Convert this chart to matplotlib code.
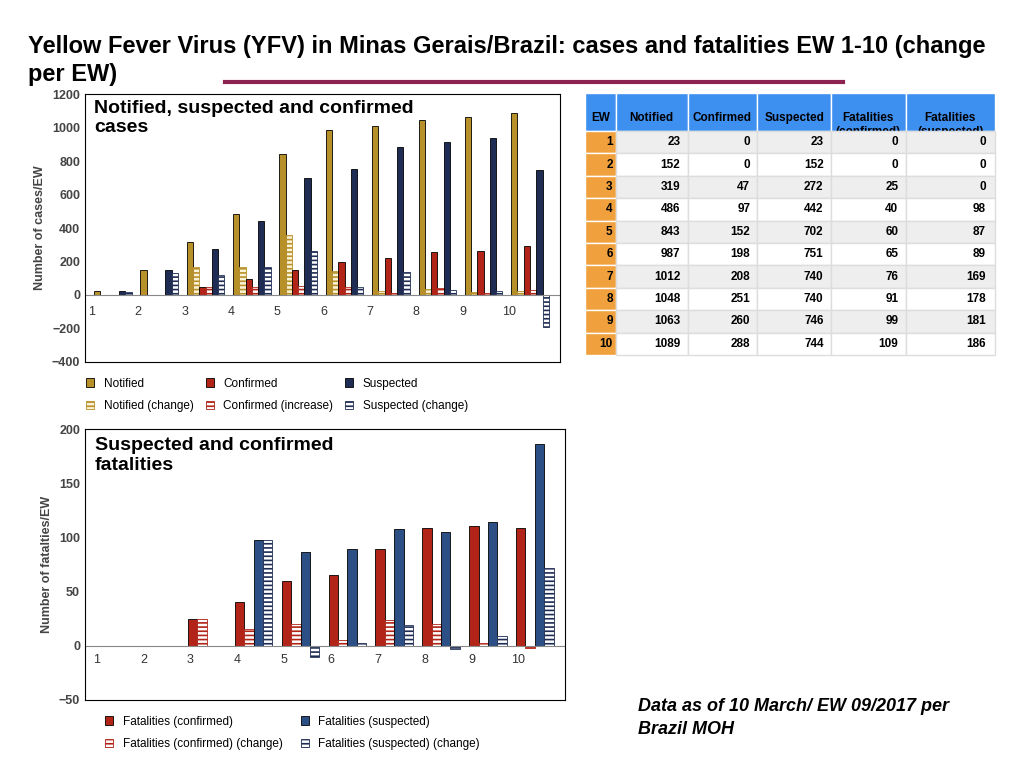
import numpy as np
import matplotlib.pyplot as plt

ew = np.arange(1, 11)

# top chart values
notified = [23, 152, 319, 486, 843, 987, 1012, 1048, 1063, 1089]
notified_change = [0, 0, 170, 170, 360, 145, 25, 35, 15, 25]
confirmed = [0, 0, 47, 97, 152, 198, 220, 255, 260, 290]
confirmed_inc = [0, 0, 47, 50, 55, 46, 10, 43, 9, 28]
suspected = [23, 152, 272, 442, 702, 751, 885, 915, 940, 745]
suspected_change = [20, 130, 120, 170, 260, 49, 135, 30, 25, -195]

# bottom chart values
fat_conf = [0, 0, 25, 40, 60, 65, 89, 109, 111, 109]
fat_conf_change = [0, 0, 25, 15, 20, 5, 24, 20, 2, -2]
fat_susp = [0, 0, 0, 98, 87, 89, 108, 105, 114, 186]
fat_susp_change = [0, 0, 0, 98, -11, 2, 19, -3, 9, 72]

# table
tbl_cols = ['EW', 'Notified', 'Confirmed', 'Suspected', 'Fatalities\n(confirmed)', 'Fatalities\n(suspected)']
tbl_notified = [23, 152, 319, 486, 843, 987, 1012, 1048, 1063, 1089]
tbl_confirmed = [0, 0, 47, 97, 152, 198, 208, 251, 260, 288]
tbl_suspected = [23, 152, 272, 442, 702, 751, 740, 740, 746, 744]
tbl_fat_conf = [0, 0, 25, 40, 60, 65, 76, 91, 99, 109]
tbl_fat_susp = [0, 0, 0, 98, 87, 89, 169, 178, 181, 186]

GOLD = '#b8902a'
RED = '#b22418'
NAVY = '#1f2d55'
BLUE = '#2c4f86'

plt.rcParams['font.family'] = ['Liberation Sans', 'DejaVu Sans']
plt.rcParams['hatch.linewidth'] = 1.2

fig = plt.figure(figsize=(10.24, 7.68), dpi=100)
fig.text(0.027, 0.955, 'Yellow Fever Virus (YFV) in Minas Gerais/Brazil: cases and fatalities EW 1-10 (change\nper EW)',
         fontsize=17, fontweight='bold', va='top', linespacing=1.3)
fig.add_artist(plt.Line2D([225/1024, 843/1024], [1-82/768]*2, color='#8b2252', lw=3))


def bars(ax, series, width):
    n = len(series)
    for i, (vals, face, edge, hatch, label) in enumerate(series):
        x = ew + (i - (n - 1) / 2) * width
        ax.bar(x, vals, width, color=face, edgecolor=edge, hatch=hatch, lw=0.6, label=label)


# top chart
ax1 = fig.add_axes([0.083, 0.529, 0.464, 0.348])
w = 0.135
bars(ax1, [
    (notified, GOLD, 'black', None, 'Notified'),
    (notified_change, '#fbf3d8', GOLD, '----', 'Notified (change)'),
    (confirmed, RED, 'black', None, 'Confirmed'),
    (confirmed_inc, 'white', RED, '----', 'Confirmed (increase)'),
    (suspected, NAVY, 'black', None, 'Suspected'),
    (suspected_change, 'white', NAVY, '----', 'Suspected (change)'),
], w)
ax1.set_ylim(-400, 1200)
ax1.set_yticks(range(-400, 1201, 200))
ax1.set_xlim(0.4, 10.65)
ax1.set_xticks([])
ax1.axhline(0, color='#888888', lw=0.8)
for e in ew:
    ax1.text(e - 0.45, -100, str(e), fontsize=9, ha='center', va='center', color='#333333')
ax1.set_ylabel('Number of cases/EW', fontsize=9, fontweight='bold', color='#444444')
ax1.tick_params(axis='y', labelsize=9, length=0)
for t in ax1.get_yticklabels():
    t.set_fontweight('bold')
    t.set_color('#444444')
ax1.text(0.02, 0.98, 'Notified, suspected and confirmed\ncases', transform=ax1.transAxes,
         fontsize=14, fontweight='bold', va='top')
ax1.legend(loc='upper left', bbox_to_anchor=(-0.02, -0.02), ncol=3, frameon=False,
           fontsize=8.5, handlelength=0.7, handleheight=0.7, columnspacing=1.0, labelspacing=0.9)

# bottom chart
ax2 = fig.add_axes([0.083, 0.089, 0.469, 0.352])
w = 0.2
bars(ax2, [
    (fat_conf, RED, 'black', None, 'Fatalities (confirmed)'),
    (fat_conf_change, 'white', RED, '----', 'Fatalities (confirmed) (change)'),
    (fat_susp, BLUE, 'black', None, 'Fatalities (suspected)'),
    (fat_susp_change, 'white', NAVY, '----', 'Fatalities (suspected) (change)'),
], w)
ax2.set_ylim(-50, 200)
ax2.set_yticks(range(-50, 201, 50))
ax2.set_xlim(0.4, 10.65)
ax2.set_xticks([])
ax2.axhline(0, color='#888888', lw=0.8)
for e in ew:
    ax2.text(e - 0.35, -13, str(e), fontsize=9, ha='center', va='center', color='#333333')
ax2.set_ylabel('Number of fatalties/EW', fontsize=9, fontweight='bold', color='#444444')
ax2.tick_params(axis='y', labelsize=9, length=0)
for t in ax2.get_yticklabels():
    t.set_fontweight('bold')
    t.set_color('#444444')
ax2.text(0.02, 0.97, 'Suspected and confirmed\nfatalities', transform=ax2.transAxes,
         fontsize=14, fontweight='bold', va='top')
ax2.legend(loc='upper left', bbox_to_anchor=(0.02, -0.02), ncol=2, frameon=False,
           fontsize=8.5, handlelength=0.7, handleheight=0.7, columnspacing=1.5, labelspacing=0.9)

# table
tax = fig.add_axes([585/1024, 1-355/768, 410/1024, 262/768])
tax.axis('off')
rows = [[str(e), str(a), str(b), str(c), str(d), str(f)] for e, a, b, c, d, f in
        zip(ew, tbl_notified, tbl_confirmed, tbl_suspected, tbl_fat_conf, tbl_fat_susp)]
table = tax.table(cellText=rows, colLabels=tbl_cols, bbox=[0, 0, 1, 1],
                  colWidths=[30, 70, 68, 72, 73, 87])
table.auto_set_font_size(False)
nrows = len(rows) + 1
for (r, c), cell in table.get_celld().items():
    cell.set_edgecolor('white')
    cell.set_linewidth(1)
    cell.set_text_props(fontweight='bold', fontsize=8.5)
    if r == 0:
        cell.set_facecolor('#3d8ff0')
        cell.set_height(1.7)
        cell._loc = 'left'
        cell.get_text().set_va('top')
        cell.PAD = 0.08
    else:
        cell.set_height(1.0)
        cell._loc = 'right'
        cell.set_facecolor('#f0a03c' if c == 0 else ('#eeeeee' if r % 2 else 'white'))
        if c > 0:
            cell.set_edgecolor('#dddddd')

fig.text(638/1024, 1-718/768, 'Data as of 10 March/ EW 09/2017 per\nBrazil MOH', fontsize=13,
         fontweight='bold', style='italic', va='center', linespacing=1.4)

fig.savefig('out.png', dpi=100)
